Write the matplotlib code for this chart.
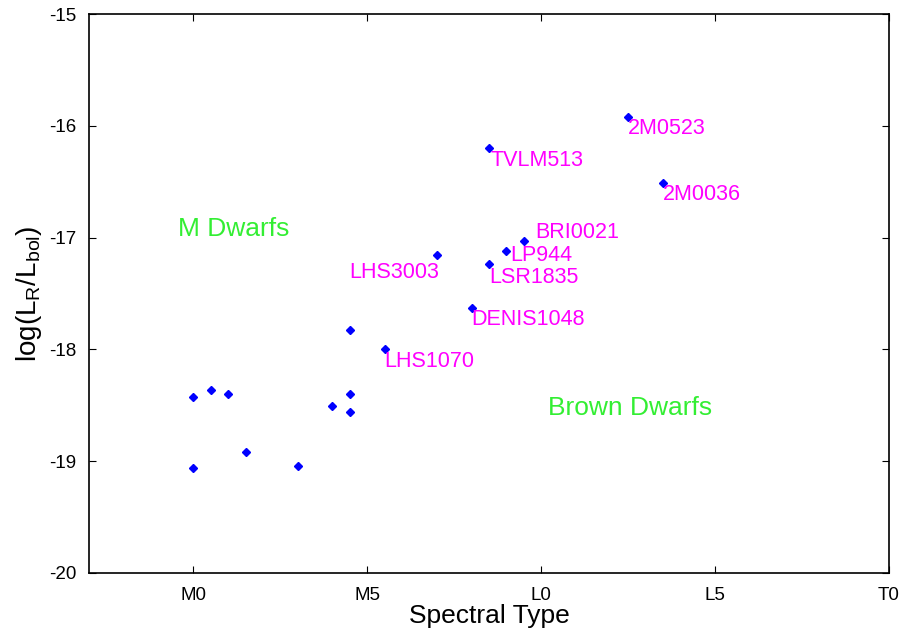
import matplotlib

matplotlib.use("Agg")

import matplotlib.pyplot as plt

plt.rcParams["font.family"] = ["Liberation Sans", "DejaVu Sans"]
plt.rcParams["axes.unicode_minus"] = False

# spectral type: M0 = 0, M5 = 5, L0 = 10, L5 = 15, T0 = 20
spt = [0, 0, 0.5, 1.0, 1.5, 3.0, 4.0, 4.5, 4.5, 4.5,
       5.5, 7.0, 8.0, 8.5, 8.5, 9.0, 9.5, 12.5, 13.5]
log_lr = [-18.43, -19.06, -18.36, -18.40, -18.92, -19.04, -18.51, -17.83, -18.40, -18.56,
          -18.00, -17.16, -17.63, -16.20, -17.24, -17.12, -17.03, -15.92, -16.51]

names = ["LHS1070", "LHS3003", "DENIS1048", "TVLM513", "LSR1835", "LP944", "BRI0021", "2M0523", "2M0036"]
name_spt = [5.5, 7.0, 8.0, 8.5, 8.5, 9.0, 9.5, 12.5, 13.5]
name_lr = [-18.00, -17.16, -17.63, -16.20, -17.24, -17.12, -17.03, -15.92, -16.51]
# label placement: (dx, dy in points, ha, va)
name_pos = [
    (0, -1.5, "left", "top"),
    (2, -5, "right", "top"),
    (0, -0.5, "left", "top"),
    (1, -1, "left", "top"),
    (0, -2, "left", "top"),
    (3, -3, "left", "center"),
    (8, -1.5, "left", "bottom"),
    (0, -1, "left", "top"),
    (0, -1, "left", "top"),
]

tick_pos = [0, 5, 10, 15, 20]
tick_labels = ["M0", "M5", "L0", "L5", "T0"]

fig = plt.figure(figsize=(9, 6.37), dpi=100)
ax = fig.add_axes([0.0989, 0.1005, 0.8889, 0.8775])

ax.plot(spt, log_lr, linestyle="none", marker="D", markersize=4.5, color="#0000ff")

for n, x, y, (dx, dy, ha, va) in zip(names, name_spt, name_lr, name_pos):
    ax.annotate(n, (x, y), xytext=(dx, dy), textcoords="offset points",
                ha=ha, va=va, fontsize=15.5, color="#ff00ff")

ax.text(-0.45, -16.92, "M Dwarfs", fontsize=19, color="#33ee33", ha="left", va="center")
ax.text(10.2, -18.52, "Brown Dwarfs", fontsize=19, color="#33ee33", ha="left", va="center")

ax.set_xlim(-3, 20)
ax.set_ylim(-20, -15)
ax.set_xticks(tick_pos)
ax.set_xticklabels(tick_labels)
ax.set_yticks([-20, -19, -18, -17, -16, -15])
ax.tick_params(direction="in", top=True, right=True, labelsize=13.5, length=5)
ax.tick_params(axis="x", pad=10)
ax.tick_params(axis="y", pad=9)
for s in ax.spines.values():
    s.set_linewidth(1.2)

ax.set_xlabel("Spectral Type", fontsize=19, labelpad=0)
ax.set_ylabel(r"log(L$_\mathregular{R}$/L$_\mathregular{bol}$)", fontsize=20, labelpad=4)

fig.savefig("out.png", dpi=100)
plt.close(fig)
